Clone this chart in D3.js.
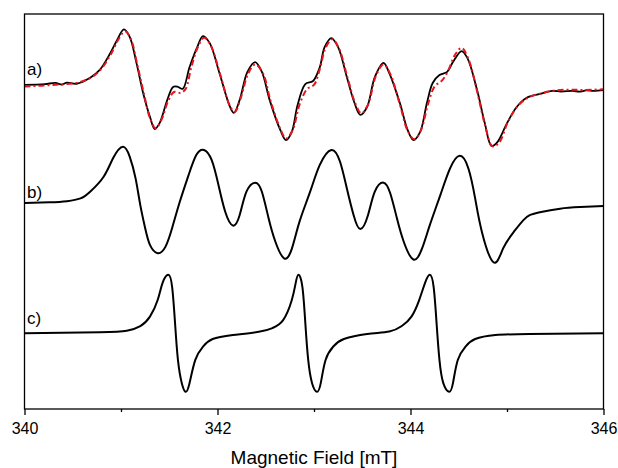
<!DOCTYPE html>
<html>
<head>
<meta charset="utf-8">
<script src="https://cdn.jsdelivr.net/npm/d3@7"></script>
<style>
  body { margin: 0; background: #fff; }
  svg { display: block; font-family: "Liberation Sans", Arial, sans-serif; }
</style>
</head>
<body>
<svg width="618" height="468"></svg>
<script>
// field axis (mT)
var majorTicks = [340, 342, 344, 346];
var minorTicks = [341, 343, 345];

// spectrum a) experimental, [field, intensity] (offset a.u.)
var expA = [[340.00,82.0],[340.21,82.2],[340.32,82.5],[340.39,82.1],[340.44,82.6],[340.54,82.3],[340.68,83.8],[340.78,85.8],[340.89,90.1],[340.96,93.4],[341.03,96.1],[341.09,94.2],[341.16,87.6],[341.23,79.9],[341.30,73.9],[341.35,70.8],[341.40,72.3],[341.48,78.2],[341.54,81.5],[341.59,81.5],[341.64,81.0],[341.71,86.5],[341.79,91.6],[341.85,94.4],[341.92,92.6],[342.02,85.0],[342.13,76.4],[342.17,74.9],[342.23,78.2],[342.31,85.3],[342.39,87.8],[342.46,85.3],[342.54,78.2],[342.65,70.6],[342.71,68.0],[342.77,70.1],[342.83,76.9],[342.91,82.2],[342.99,83.0],[343.06,86.5],[343.11,91.6],[343.18,93.9],[343.25,91.6],[343.34,84.0],[343.42,77.4],[343.48,74.4],[343.55,76.4],[343.63,84.0],[343.72,87.6],[343.78,85.0],[343.89,77.4],[343.97,70.6],[344.03,68.0],[344.10,70.1],[344.17,77.4],[344.23,82.5],[344.30,84.5],[344.38,85.3],[344.44,87.8],[344.53,90.6],[344.59,88.8],[344.69,80.7],[344.77,72.3],[344.84,66.5],[344.90,67.5],[345.00,72.3],[345.10,76.4],[345.20,78.7],[345.34,79.7],[345.47,80.5],[345.56,80.3],[345.68,80.5],[345.75,80.3],[345.82,80.6],[345.90,80.5],[346.00,80.7]];

// spectrum a) fit (red dashed)
var fitA = [[340.00,81.6],[340.30,82.0],[340.55,82.6],[340.70,84.0],[340.80,86.2],[340.90,90.0],[340.97,93.4],[341.04,95.6],[341.10,93.8],[341.17,87.0],[341.24,79.5],[341.30,73.6],[341.36,71.0],[341.42,73.2],[341.49,78.0],[341.55,80.2],[341.62,80.0],[341.67,81.0],[341.73,86.6],[341.80,91.8],[341.86,94.0],[341.93,92.0],[342.03,84.5],[342.13,76.6],[342.18,75.2],[342.24,78.6],[342.32,85.0],[342.39,87.2],[342.47,85.0],[342.55,78.0],[342.65,70.9],[342.71,68.4],[342.78,70.6],[342.85,77.0],[342.93,81.0],[343.00,82.0],[343.06,86.0],[343.12,91.4],[343.19,93.6],[343.26,91.2],[343.35,83.6],[343.43,77.2],[343.49,74.8],[343.56,77.0],[343.64,84.2],[343.72,87.2],[343.79,84.8],[343.89,77.0],[343.97,70.4],[344.04,68.2],[344.11,70.6],[344.18,77.0],[344.25,81.6],[344.33,83.2],[344.39,85.6],[344.46,89.6],[344.53,91.4],[344.60,88.6],[344.69,80.4],[344.77,72.0],[344.85,66.4],[344.92,67.4],[345.01,72.6],[345.11,76.6],[345.22,78.8],[345.36,79.9],[345.50,80.6],[345.65,80.8],[345.80,80.7],[346.00,80.9]];

// spectrum b) simulation
var simB = [[340.00,52.0],[340.26,52.2],[340.44,52.5],[340.58,53.2],[340.68,54.9],[340.82,58.7],[340.92,63.5],[341.02,66.3],[341.09,63.8],[341.15,58.4],[341.20,51.5],[341.25,45.7],[341.30,41.4],[341.38,39.3],[341.46,40.9],[341.53,45.7],[341.61,52.4],[341.70,59.1],[341.78,64.2],[341.86,65.5],[341.94,62.9],[342.01,56.6],[342.08,49.8],[342.16,46.3],[342.23,49.0],[342.30,54.9],[342.39,57.2],[342.46,54.9],[342.53,48.1],[342.60,42.2],[342.69,38.0],[342.77,40.4],[342.85,47.3],[342.96,54.9],[343.06,61.7],[343.18,65.5],[343.27,62.5],[343.34,55.8],[343.41,49.0],[343.48,45.4],[343.56,49.0],[343.63,54.9],[343.72,57.2],[343.79,54.5],[343.86,48.1],[343.93,42.2],[344.03,37.7],[344.12,40.5],[344.20,46.4],[344.31,54.1],[344.41,60.8],[344.51,64.0],[344.60,60.8],[344.67,53.2],[344.74,44.7],[344.86,37.0],[344.96,40.5],[345.07,44.7],[345.17,47.7],[345.24,49.0],[345.34,49.7],[345.55,50.6],[345.76,51.0],[346.00,51.3]];

// spectrum c) simulation
var simC = [[340.00,19.0],[340.78,19.2],[341.06,19.6],[341.20,20.8],[341.30,23.2],[341.38,27.4],[341.43,31.7],[341.49,33.8],[341.53,30.7],[341.56,21.6],[341.59,12.2],[341.63,6.3],[341.67,4.1],[341.71,6.3],[341.77,12.2],[341.85,15.6],[341.95,17.5],[342.16,18.5],[342.44,19.4],[342.57,20.3],[342.68,22.3],[342.77,27.4],[342.81,31.7],[342.84,33.8],[342.88,30.7],[342.91,21.6],[342.94,12.2],[342.98,6.3],[343.03,4.1],[343.07,6.3],[343.12,12.2],[343.20,15.6],[343.31,17.5],[343.55,18.8],[343.78,19.4],[343.91,20.8],[344.01,23.2],[344.09,27.4],[344.15,31.7],[344.20,33.8],[344.24,30.7],[344.27,21.6],[344.30,12.2],[344.34,6.3],[344.40,4.1],[344.44,6.3],[344.49,12.2],[344.57,15.6],[344.67,17.5],[344.88,18.5],[345.23,18.8],[346.00,19.0]];

var labels = ["a)", "b)", "c)"];
var labelLevels = [84.5, 53.3, 21.4];

var mLeft = 24.5, mRight = 603.5, mTop = 14, mBottom = 409;

var svg = d3.select("svg");

var x = d3.scaleLinear().domain([340, 346]).range([mLeft, mRight]);
var y = d3.scaleLinear().domain([0, 100]).range([408, mTop]);

var line = d3.line()
  .x(function(d) { return x(d[0]); })
  .y(function(d) { return y(d[1]); })
  .curve(d3.curveCatmullRom.alpha(0.5));

// simulated spectra are smooth, use a natural spline
var smooth = d3.line()
  .x(function(d) { return x(d[0]); })
  .y(function(d) { return y(d[1]); })
  .curve(d3.curveNatural);

svg.append("path").datum(expA)
  .attr("d", line).attr("fill", "none")
  .attr("stroke", "#000").attr("stroke-width", 1.8);

svg.append("path").datum(fitA)
  .attr("d", line).attr("fill", "none")
  .attr("stroke", "#e8141b").attr("stroke-width", 2)
  .attr("stroke-dasharray", "6,3,2,3");

svg.append("path").datum(simB)
  .attr("d", smooth).attr("fill", "none")
  .attr("stroke", "#000").attr("stroke-width", 2);

svg.append("path").datum(simC)
  .attr("d", smooth).attr("fill", "none")
  .attr("stroke", "#000").attr("stroke-width", 2);

svg.selectAll(".lbl")
  .data(labels)
  .enter().append("text")
  .attr("class", "lbl")
  .attr("x", mLeft + 2.5)
  .attr("y", function(d, i) { return y(labelLevels[i]); })
  .attr("font-size", 17)
  .text(function(d) { return d; });

// frame
svg.append("rect")
  .attr("x", mLeft).attr("y", mTop)
  .attr("width", mRight - mLeft).attr("height", mBottom - mTop)
  .attr("fill", "none").attr("stroke", "#000").attr("stroke-width", 1.3);

var xAxis = svg.append("g")
  .attr("transform", "translate(0," + mBottom + ")")
  .call(d3.axisBottom(x).tickValues(majorTicks).tickFormat(d3.format("d"))
    .tickSize(6).tickSizeOuter(0).tickPadding(8));
xAxis.select(".domain").remove();
xAxis.selectAll("line").attr("stroke-width", 1.3);
xAxis.selectAll("text").attr("font-size", 16).attr("font-family", "Liberation Sans, Arial, sans-serif").attr("fill", "#000");

var xMinor = svg.append("g")
  .attr("transform", "translate(0," + mBottom + ")")
  .call(d3.axisBottom(x).tickValues(minorTicks).tickFormat("").tickSize(3).tickSizeOuter(0));
xMinor.select(".domain").remove();
xMinor.selectAll("line").attr("stroke-width", 1.3);

svg.append("text")
  .attr("x", (mLeft + mRight) / 2)
  .attr("y", 464)
  .attr("text-anchor", "middle")
  .attr("font-size", 19)
  .text("Magnetic Field [mT]");
</script>
</body>
</html>
